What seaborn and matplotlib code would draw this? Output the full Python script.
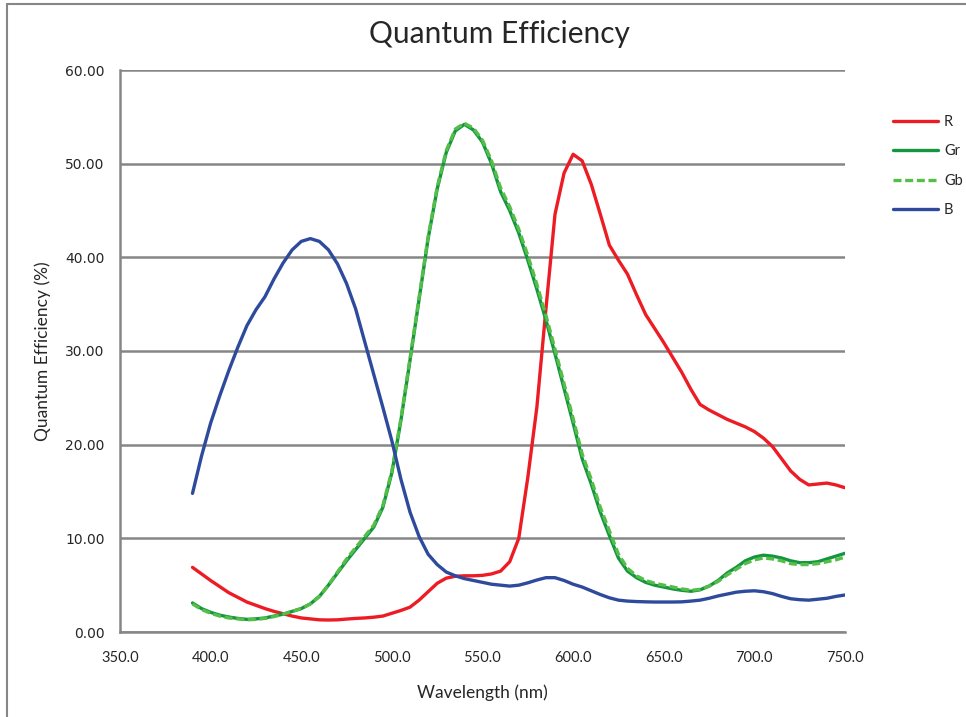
import pandas as pd
import matplotlib.pyplot as plt
import matplotlib.lines as mlines
import seaborn as sns

# Wavelength samples (nm), 390..750 in 5 nm steps
wavelength = list(range(390, 755, 5))

# Quantum efficiency (%)
qe_r = [6.9, 6.2, 5.5, 4.85, 4.2, 3.7, 3.2, 2.85, 2.5, 2.2,
        1.95, 1.7, 1.5, 1.4, 1.3, 1.28, 1.3, 1.38, 1.45, 1.5,
        1.58, 1.7, 2.0, 2.3, 2.65, 3.4, 4.3, 5.2, 5.75, 5.95,
        6.0, 6.0, 6.05, 6.2, 6.5, 7.5, 10.0, 16.5, 24.0, 34.5,
        44.6, 49.0, 51.0, 50.3, 47.8, 44.6, 41.3, 39.7, 38.2, 36.0,
        33.9, 32.4, 30.9, 29.3, 27.7, 25.9, 24.3, 23.7, 23.2, 22.7,
        22.3, 21.9, 21.4, 20.7, 19.8, 18.5, 17.2, 16.3, 15.7, 15.8,
        15.9, 15.7, 15.4]

qe_gr = [3.1, 2.5, 2.1, 1.8, 1.6, 1.45, 1.35, 1.4, 1.5, 1.7,
         1.9, 2.2, 2.5, 3.0, 3.8, 5.0, 6.3, 7.6, 8.8, 10.0,
         11.2, 13.3, 17.0, 22.6, 29.0, 35.5, 42.0, 47.3, 51.2, 53.5,
         54.2, 53.6, 52.3, 50.0, 47.0, 45.0, 42.6, 39.7, 36.6, 33.3,
         29.7, 26.0, 22.3, 18.5, 15.8, 12.8, 10.3, 7.9, 6.5, 5.8,
         5.3, 5.0, 4.8, 4.6, 4.45, 4.35, 4.5, 4.9, 5.5, 6.3,
         6.9, 7.6, 8.0, 8.2, 8.1, 7.9, 7.6, 7.4, 7.4, 7.5,
         7.8, 8.1, 8.4]

qe_gb = [3.0, 2.4, 2.0, 1.7, 1.5, 1.4, 1.3, 1.35, 1.45, 1.65,
         1.9, 2.2, 2.5, 3.0, 3.8, 5.0, 6.4, 7.8, 9.0, 10.2,
         11.4, 13.5, 17.2, 22.8, 29.2, 35.7, 42.2, 47.5, 51.4, 53.7,
         54.3, 53.8, 52.5, 50.3, 47.4, 45.4, 43.0, 40.2, 37.1, 33.8,
         30.2, 26.5, 22.8, 19.0, 16.3, 13.3, 10.8, 8.3, 6.8, 6.0,
         5.5, 5.2, 5.0, 4.8, 4.6, 4.45, 4.55, 4.9, 5.4, 6.1,
         6.7, 7.3, 7.7, 7.9, 7.8, 7.6, 7.3, 7.2, 7.2, 7.3,
         7.5, 7.7, 8.0]

qe_b = [14.8, 18.8, 22.3, 25.2, 27.9, 30.4, 32.7, 34.4, 35.8, 37.7,
        39.4, 40.8, 41.7, 42.0, 41.7, 40.8, 39.3, 37.2, 34.5, 31.0,
        27.5, 24.0, 20.4, 16.3, 12.8, 10.2, 8.3, 7.2, 6.4, 6.0,
        5.7, 5.5, 5.3, 5.1, 5.0, 4.9, 5.0, 5.25, 5.55, 5.8,
        5.8, 5.5, 5.1, 4.8, 4.4, 4.0, 3.65, 3.4, 3.3, 3.25,
        3.22, 3.2, 3.2, 3.2, 3.22, 3.3, 3.4, 3.6, 3.85, 4.05,
        4.25, 4.35, 4.4, 4.3, 4.1, 3.8, 3.55, 3.45, 3.4, 3.5,
        3.6, 3.8, 3.95]

channels = ["R", "Gr", "Gb", "B"]
colors = {"R": "#ED1C24", "Gr": "#13963F", "Gb": "#55BE48", "B": "#2E4A9C"}
dashes = {"R": "", "Gr": "", "Gb": (2.4, 1.1), "B": ""}

x_ticks = [350, 400, 450, 500, 550, 600, 650, 700, 750]
y_ticks = [0, 10, 20, 30, 40, 50, 60]


def main():
    df = pd.DataFrame({"Wavelength": wavelength, "R": qe_r, "Gr": qe_gr,
                       "Gb": qe_gb, "B": qe_b})
    long_df = df.melt(id_vars="Wavelength", var_name="Channel", value_name="QE")

    sns.set_style("white")
    plt.rcParams["font.family"] = ["Lato", "DejaVu Sans"]
    grey = "#868686"

    fig = plt.figure(figsize=(9.66, 7.17), dpi=100)
    ax = fig.add_axes([120 / 966, 85 / 717, 725 / 966, 562 / 717])

    sns.lineplot(data=long_df, x="Wavelength", y="QE", hue="Channel",
                 style="Channel", hue_order=channels, style_order=channels,
                 palette=colors, dashes=dashes, linewidth=2.4, ax=ax,
                 legend=False)

    ax.set_xlim(350, 750)
    ax.set_ylim(0, 60)
    ax.set_xticks(x_ticks)
    ax.set_yticks(y_ticks)
    ax.set_xticklabels([f"{v:.1f}" for v in x_ticks], fontsize=10.5)
    ax.set_yticklabels([f"{v:.2f}" for v in y_ticks], fontsize=10,
                       family="DejaVu Sans")
    ax.tick_params(axis="both", direction="out", length=5, width=1.5,
                   color=grey, pad=6)
    ax.tick_params(axis="x", pad=9)

    ax.yaxis.grid(True, color=grey, linewidth=1.8)
    ax.xaxis.grid(False)
    ax.set_axisbelow(True)
    for side in ["top", "right"]:
        ax.spines[side].set_visible(False)
    for side in ["left", "bottom"]:
        ax.spines[side].set_color(grey)
        ax.spines[side].set_linewidth(1.8)

    ax.set_xlabel("Wavelength (nm)", fontsize=12.5, labelpad=14)
    ax.set_ylabel("Quantum Efficiency (%)", fontsize=12.5, labelpad=10)
    fig.text(499 / 966, 1 - 34 / 717, "Quantum Efficiency", ha="center",
             va="center", fontsize=21.5)

    # legend on the right, no frame
    handles = [mlines.Line2D([], [], color=colors[c], linewidth=2.4,
                             linestyle=(0, dashes[c]) if dashes[c] else "-")
               for c in channels]
    fig.legend(handles, channels, loc="upper left",
               bbox_to_anchor=(893 / 966, 1 - 115 / 717), frameon=False,
               fontsize=10.5, handlelength=3.1, handletextpad=0.4,
               labelspacing=1.05, borderpad=0, borderaxespad=0)

    # chart area border (left and top edges visible)
    fig.add_artist(mlines.Line2D([7 / 966, 7 / 966], [0, 1 - 4 / 717],
                                 transform=fig.transFigure, color=grey,
                                 linewidth=1.5))
    fig.add_artist(mlines.Line2D([7 / 966, 1], [1 - 4 / 717, 1 - 4 / 717],
                                 transform=fig.transFigure, color=grey,
                                 linewidth=1.5))

    plt.savefig("out.png", dpi=100)


if __name__ == "__main__":
    main()
